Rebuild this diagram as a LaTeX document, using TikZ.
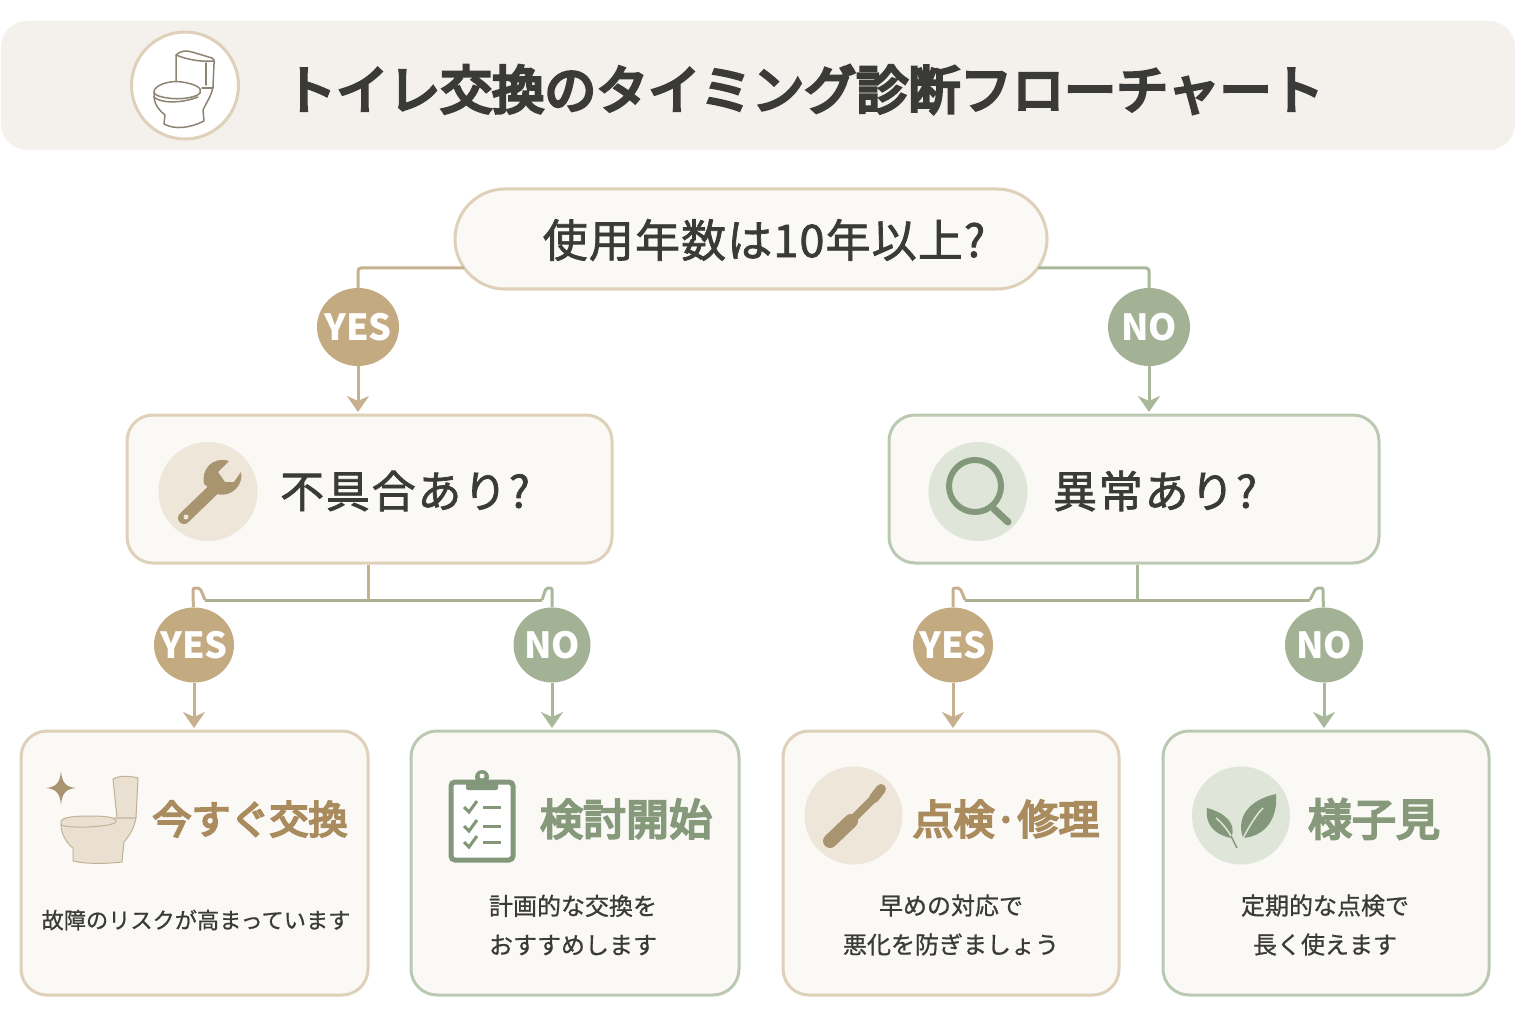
\documentclass[tikz,border=0pt]{standalone}
\usepackage{fontspec}
\setmainfont{Noto Sans CJK JP}
\newfontfamily\ttlfont[FakeBold=6]{Noto Sans CJK JP}
\newfontfamily\askfont[FakeBold=1.6, LetterSpace=4]{Noto Sans CJK JP}
\newfontfamily\askbfont[FakeBold=1.6, LetterSpace=2.5]{Noto Sans CJK JP}
\newfontfamily\headfont[FakeBold=5]{Noto Sans CJK JP}
\newfontfamily\notefont[FakeBold=0.8]{Noto Sans CJK JP}
\usetikzlibrary{arrows.meta,shapes.geometric,calc}

\definecolor{inktext}{HTML}{3A3A38}
\definecolor{tanline}{HTML}{C6B08E}
\definecolor{tanedge}{HTML}{DFD0B9}
\definecolor{tanfill}{HTML}{C4AA80}
\definecolor{tanicon}{HTML}{A8946E}
\definecolor{tansoft}{HTML}{EFE6DA}
\definecolor{tantext}{HTML}{A98B5E}
\definecolor{grnline}{HTML}{A9B89B}
\definecolor{grnedge}{HTML}{BCC9B2}
\definecolor{grnfill}{HTML}{A3B294}
\definecolor{grnicon}{HTML}{83977A}
\definecolor{grnsoft}{HTML}{DFE5D8}
\definecolor{grntext}{HTML}{86997A}
\definecolor{midline}{HTML}{ACAE90}
\definecolor{boxfill}{HTML}{FAF9F5}
\definecolor{hdrfill}{HTML}{F4F1EC}

\newcommand{\fs}[2]{\fontsize{#1}{#2}\selectfont}
\newcommand{\mk}[1]{\makebox[0pt]{#1}}

\begin{document}
\begin{tikzpicture}[x=1pt, y=-1pt,
    tanbox/.style={draw=tanedge, fill=boxfill, line width=3pt, rectangle, rounded corners=26pt, inner sep=0pt},
    grnbox/.style={draw=grnedge, fill=boxfill, line width=3pt, rectangle, rounded corners=26pt, inner sep=0pt},
    yesdot/.style={ellipse, fill=tanfill, text=white, inner sep=0pt, font=\bfseries\fs{36}{36}},
    nodot/.style={ellipse, fill=grnfill, text=white, inner sep=0pt, font=\bfseries\fs{36}{36}},
    tanarrow/.style={draw=tanline, line width=3pt, shorten >=1.5pt, -{Stealth[length=16pt, width=22pt, inset=5pt]}},
    grnarrow/.style={draw=grnline, line width=3pt, shorten >=1.5pt, -{Stealth[length=16pt, width=22pt, inset=5pt]}},
    tanwire/.style={draw=tanline, line width=3pt, rounded corners=2pt},
    grnwire/.style={draw=grnline, line width=3pt, rounded corners=2pt},
    midwire/.style={draw=midline, line width=3pt},
    ask/.style={text=inktext, font=\askfont\fs{44}{48}},
    tanhead/.style={text=tantext, font=\headfont\fs{41}{46}},
    grnhead/.style={text=grntext, font=\headfont\fs{42}{46}},
    note/.style={text=inktext, align=center, font=\notefont\fs{24}{39}}]

  \useasboundingbox (0,0) rectangle (1536,1024);

  % Header
  \node[fill=hdrfill, rectangle, rounded corners=26pt, inner sep=0pt, minimum width=1514pt, minimum height=129pt] (hdr) at (758,85.5) {};
  \node[circle, draw=tanedge, fill=white, line width=3pt, inner sep=0pt, minimum size=107pt] (logo) at (185,85.5) {};
  \node[text=inktext, font=\ttlfont\fs{52}{56}] (ttl) at (804,89.5) {トイレ交換のタイミング診断フローチャート};

  % Header toilet
  \begin{scope}[draw=black!50!hdrfill!60!tanicon, line width=1.5pt, line cap=round, line join=round]
    \draw (176,81) -- (176,55) .. controls (180,51) and (186,50) .. (192,52) -- (212,58) .. controls (214,59) and (215,61) .. (214,64) -- (213,87);
    \draw (176,55) .. controls (188,60) and (202,62) .. (214,61);
    \draw (206,63) -- (206,85);
    \draw (154,92) .. controls (154,85) and (170,80) .. (182,82) .. controls (195,84) and (203,88) .. (200,93) .. controls (196,98) and (178,100) .. (168,98) .. controls (160,97) and (154,95) .. (154,92);
    \draw (154,92) -- (154,97) .. controls (160,103) and (180,104) .. (198,97);
    \draw (154,97) .. controls (155,106) and (160,111) .. (165,115) -- (164,124) .. controls (175,130) and (190,128) .. (204,121) -- (203,110) .. controls (206,103) and (211,97) .. (213,87);
    \draw (202,88) -- (213,88);
  \end{scope}

  % Question boxes
  \node[tanbox, rounded corners=50pt, minimum width=592pt, minimum height=100pt] (start) at (751,239) {};
  \node[ask, font=\askbfont\fs{45}{48}] (starttxt) at (764,240) {使用年数は10年以上?};
  \node[tanbox, minimum width=485pt, minimum height=148pt] (q1) at (369.5,489) {};
  \node[grnbox, minimum width=490pt, minimum height=148pt] (q2) at (1134,489) {};
  \node[ask] (q1txt) at (405,491) {不具合あり?};
  \node[ask] (q2txt) at (1155,491) {異常あり?};

  % YES and NO marks
  \node[yesdot, minimum width=82pt, minimum height=78pt] (y0) at (358,327) {\mk{YES}};
  \node[nodot, minimum width=82pt, minimum height=78pt] (n0) at (1149,327) {\mk{NO}};
  \node[yesdot, minimum width=80pt, minimum height=75pt] (y1) at (194,645) {\mk{YES}};
  \node[nodot, minimum width=77pt, minimum height=75pt] (n1) at (552,645) {\mk{NO}};
  \node[yesdot, minimum width=80pt, minimum height=75pt] (y2) at (953,645) {\mk{YES}};
  \node[nodot, minimum width=78pt, minimum height=75pt] (n2) at (1324,645) {\mk{NO}};

  % Result boxes
  \node[tanbox, minimum width=347pt, minimum height=264pt] (a1) at (194.5,863) {};
  \node[grnbox, minimum width=328pt, minimum height=264pt] (a2) at (575,863) {};
  \node[tanbox, minimum width=336pt, minimum height=264pt] (a3) at (951,863) {};
  \node[grnbox, minimum width=326pt, minimum height=264pt] (a4) at (1326,863) {};

  \node[tanhead, font=\headfont\fs{39}{46}] (a1head) at (250,819) {今すぐ交換};
  \node[grnhead, font=\headfont\fs{43}{46}] (a2head) at (626,819) {検討開始};
  \node[tanhead] (a3head) at (1006,819) {点検·修理};
  \node[grnhead, font=\headfont\fs{44}{46}] (a4head) at (1374,819) {様子見};

  \node[note, font=\notefont\fs{22.2}{39}] (a1txt) at (196,920) {故障のリスクが高まっています};
  \node[note] (a2txt) at (573,925) {計画的な交換を\\おすすめします};
  \node[note] (a3txt) at (951,925) {早めの対応で\\悪化を防ぎましょう};
  \node[note] (a4txt) at (1325,925) {定期的な点検で\\長く使えます};

  % Top connectors
  \coordinate (startl) at (464,268);
  \coordinate (startr) at (1038,268);
  \draw[tanwire, rounded corners=3pt] (startl) -| (y0);
  \draw[grnwire, rounded corners=3pt] (startr) -| (n0);
  \draw[tanarrow] (y0) -- (y0 |- q1.north);
  \draw[grnarrow] (n0) -- (n0 |- q2.north);

  % Left branch
  \coordinate (b1) at (368,600);
  \coordinate (b2) at (1137,600);
  \coordinate (j1) at (193,588);
  \coordinate (j2) at (552,588);
  \coordinate (j3) at (953,588);
  \coordinate (j4) at (1323,588);

  \draw[midwire] ($(j1)+(12,12)$) -- ($(j2)+(-10,12)$);
  \draw[tanwire] (b1 |- q1.south) -- (b1);
  \draw[tanwire] (y1) -- (j1) -- ++(7,0) -- ++(5,12);
  \draw[grnwire] (n1) -- (j2) -- ++(-6,0) -- ++(-4,12);
  \draw[tanarrow] (y1) -- (y1 |- a1.north);
  \draw[grnarrow] (n1) -- (n1 |- a2.north);

  % Right branch
  \draw[midwire] ($(j3)+(12,12)$) -- ($(j4)+(-13,12)$);
  \draw[grnwire] (b2 |- q2.south) -- (b2);
  \draw[tanwire] (y2) -- (j3) -- ++(7,0) -- ++(5,12);
  \draw[grnwire] (n2) -- (j4) -- ++(-7,0) -- ++(-6,12);
  \draw[tanarrow] (y2) -- (y2 |- a3.north);
  \draw[grnarrow] (n2) -- (n2 |- a4.north);

  % Wrench
  \node[circle, fill=tansoft, inner sep=0pt, minimum size=99pt] (ic1) at (208,491.5) {};
  \draw[tanicon, line width=12pt, line cap=round] (184,518) -- (213,490);
  \fill[tanicon] (229,461) -- (218,472) -- (225,482) -- (234,482) -- (241,472) .. controls (244,484) and (232,498) .. (217,494) -- (204,484) .. controls (201,470) and (212,456) .. (229,461) -- cycle;
  \fill[tansoft] (186,517) circle (2.5pt);

  % Magnifier
  \node[circle, fill=grnsoft, inner sep=0pt, minimum size=99pt] (ic2) at (978,491.5) {};
  \draw[grnicon, line width=6pt] (975,486) circle (26pt);
  \draw[grnicon, line width=7pt, line cap=round] (994,509) -- (1008,522);

  % Toilet with sparkle
  \fill[tanicon] (61,771) .. controls (62,782) and (65,787) .. (76,788) .. controls (65,789) and (62,794) .. (61,805) .. controls (60,794) and (57,789) .. (46,788) .. controls (57,787) and (60,782) .. (61,771) -- cycle;
  \begin{scope}[fill=tanedge!60!boxfill, draw=tanicon!70!boxfill, line width=1pt, line join=round]
    \filldraw (113,779) .. controls (120,775) and (130,776) .. (138,778) -- (136,818) -- (117,818) -- cycle;
    \filldraw (116,818) -- (136,818) .. controls (134,828) and (130,835) .. (124,842) -- (122,862) .. controls (105,864) and (85,864) .. (73,861) -- (73,848) .. controls (65,842) and (61,832) .. (61,824) -- cycle;
    \filldraw (61,822) .. controls (61,817) and (75,816) .. (90,816) .. controls (105,816) and (117,817) .. (116,822) .. controls (112,827) and (70,829) .. (61,825) -- cycle;
  \end{scope}

  % Clipboard
  \draw[grnicon, fill=white, line width=5pt, rounded corners=4pt] (451,782) rectangle (513,860);
  \fill[grnicon] (482,777) circle (7pt);
  \fill[boxfill] (482,776) circle (2.5pt);
  \fill[grnicon, rounded corners=2pt] (466,781) rectangle (498,790);
  \begin{scope}[grnicon, line width=3pt]
    \foreach \ry in {807,826,842} {
      \draw (464,\ry) -- (469,{\ry+5}) -- (477,{\ry-6});
      \draw (483,\ry) -- (501,\ry);
    }
  \end{scope}

  % Screwdriver
  \node[circle, fill=tansoft, inner sep=0pt, minimum size=98pt] (ic3) at (853.5,815.5) {};
  \draw[tanicon, line width=14pt, line cap=round] (830,841) -- (851,821);
  \draw[tanicon, line width=8pt] (848,824) -- (878,794);
  \draw[tanicon, line width=10pt, line cap=round] (874,798) -- (881,789);

  % Leaves
  \node[circle, fill=grnsoft, inner sep=0pt, minimum size=98pt] (ic4) at (1241,815.5) {};
  \fill[grnicon] (1243,838) .. controls (1236,818) and (1248,800) .. (1276,794) .. controls (1278,815) and (1268,836) .. (1243,838) -- cycle;
  \fill[grnicon] (1231,838) .. controls (1212,834) and (1205,822) .. (1207,808) .. controls (1222,812) and (1238,822) .. (1231,838) -- cycle;
  \draw[grnsoft, line width=1.5pt] (1243,838) .. controls (1250,825) and (1256,815) .. (1263,808);
  \draw[grnsoft, line width=1.5pt] (1232,838) .. controls (1228,830) and (1222,823) .. (1216,818);
  \draw[grnicon, line width=1.5pt] (1231,836) -- (1237,848);
\end{tikzpicture}
\end{document}
